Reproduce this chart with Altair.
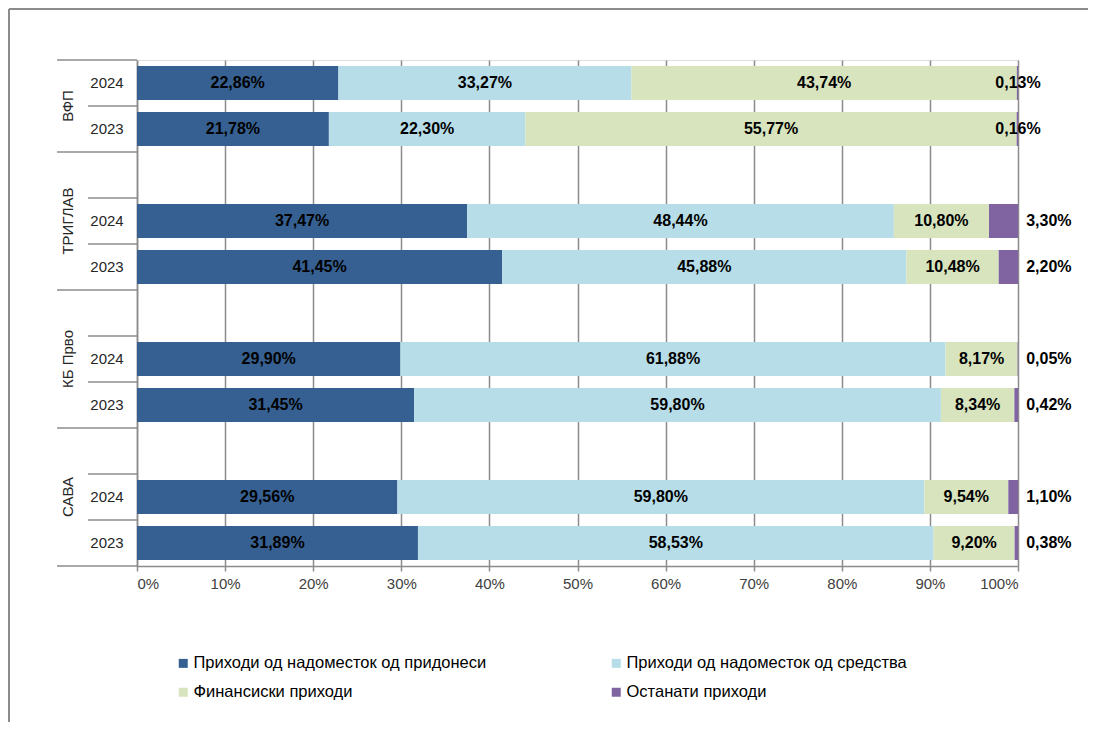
import altair as alt
import pandas as pd

companies = ["ВФП", "ТРИГЛАВ", "КБ Прво", "САВА"]
years = ["2024", "2023"]
series = [
    "Приходи  од надоместок од придонеси",
    "Приходи  од надоместок од средства",
    "Финансиски приходи",
    "Останати приходи",
]
colors = ["#376092", "#B7DEE8", "#D7E4BD", "#8064A2"]

# order of rows: ВФП 2024, ВФП 2023, ТРИГЛАВ 2024, ТРИГЛАВ 2023, КБ Прво 2024, КБ Прво 2023, САВА 2024, САВА 2023
contrib = [22.86, 21.78, 37.47, 41.45, 29.90, 31.45, 29.56, 31.89]
assets = [33.27, 22.30, 48.44, 45.88, 61.88, 59.80, 59.80, 58.53]
financial = [43.74, 55.77, 10.80, 10.48, 8.17, 8.34, 9.54, 9.20]
other = [0.13, 0.16, 3.30, 2.20, 0.05, 0.42, 1.10, 0.38]

FONT = "Liberation Sans"
GRID = "#8c8c8c"

rows, yrows, grows, seps = [], [], [], []
for i, comp in enumerate(companies):
    first = 0 if i == 0 else 3 * i
    lo = -0.5 if i == 0 else 3 * i - 1.5
    hi = first + 1.5
    grows.append(dict(company=comp, center=(lo + hi) / 2))
    seps.append(dict(pos=lo, long=1))
    if i > 0:
        seps.append(dict(pos=lo + 1, long=0))
    seps.append(dict(pos=first + 0.5, long=0))
    for j, yr in enumerate(years):
        k = i * 2 + j
        slot = first + j
        yrows.append(dict(year=yr, slot=slot))
        vals = [contrib[k], assets[k], financial[k], other[k]]
        for s, (name, v) in enumerate(zip(series, vals)):
            rows.append(dict(company=comp, year=yr, slot=slot, series=name, order=s,
                             first_group=int(i == 0),
                             value=v, label=f"{v:.2f}".replace(".", ",") + "%"))
seps.append(dict(pos=10.5, long=1))

df = pd.DataFrame(rows)
ydf = pd.DataFrame(yrows)
gdf = pd.DataFrame(grows)
sdf = pd.DataFrame(seps)

xscale = alt.Scale(domain=[0, 100], nice=False, zero=False)
yscale = alt.Scale(domain=[-0.5, 10.5], reverse=True, nice=False, zero=False)

xaxis = alt.Axis(values=list(range(0, 101, 10)), labelExpr="datum.value + '%'", title=None,
                 grid=True, gridColor=GRID, gridWidth=1.5, domainColor=GRID, domainWidth=1.5,
                 tickColor=GRID, tickWidth=1.5, tickSize=5, labelFontSize=15, labelFont=FONT,
                 labelColor="#404040", labelPadding=5)
yaxis = alt.Axis(labels=False, ticks=False, grid=False, title=None, domainColor=GRID, domainWidth=1.5)

# legend is laid out column by column; list entries so rows read like the reference
legend_order = [series[0], series[2], series[1], series[3]]

base = alt.Chart(df).transform_stack(
    stack="value", groupby=["slot"], as_=["x0", "x1"], sort=[alt.SortField("order")]
).transform_calculate(yt="datum.slot - 0.37", yb="datum.slot + 0.37")

bars = base.mark_rect().encode(
    x=alt.X("x0:Q", scale=xscale, axis=xaxis),
    x2="x1:Q",
    y=alt.Y("yt:Q", scale=yscale, axis=yaxis),
    y2="yb:Q",
    color=alt.Color("series:N", scale=alt.Scale(domain=series, range=colors),
                    legend=alt.Legend(orient="none", legendX=38, legendY=595, columns=2,
                                      values=legend_order,
                                      title=None, symbolType="square", symbolSize=81,
                                      symbolStrokeWidth=0, labelFontSize=16.5, labelFont=FONT,
                                      labelColor="#000000", columnPadding=117, rowPadding=12,
                                      labelOffset=2, padding=0, labelLimit=400)),
)

labels = base.transform_calculate(
    lx="datum.order == 3 ? (datum.first_group == 1 ? 100 : 103.5) : (datum.x0 + datum.x1) / 2"
).mark_text(font=FONT, fontSize=16, fontWeight="bold", color="#000000").encode(
    x=alt.X("lx:Q", scale=xscale),
    y=alt.Y("slot:Q", scale=yscale),
    text="label:N",
)

year_text = alt.Chart(ydf).mark_text(font=FONT, fontSize=15, color="#262626", align="center").encode(
    x=alt.value(-30), y=alt.Y("slot:Q", scale=yscale), text="year:N"
)

group_text = alt.Chart(gdf).mark_text(font=FONT, fontSize=15, color="#262626", angle=270,
                                      align="center", baseline="middle").encode(
    x=alt.value(-69), y=alt.Y("center:Q", scale=yscale), text="company:N"
)

long_sep = alt.Chart(sdf).transform_filter("datum.long == 1").mark_rule(
    color=GRID, strokeWidth=1.5).encode(
    x=alt.value(-80), x2=alt.value(0), y=alt.Y("pos:Q", scale=yscale))
short_sep = alt.Chart(sdf).transform_filter("datum.long == 0").mark_rule(
    color=GRID, strokeWidth=1.5).encode(
    x=alt.value(-49), x2=alt.value(0), y=alt.Y("pos:Q", scale=yscale))

frame_df = pd.DataFrame({"a": [0]})
frame_left = alt.Chart(frame_df).mark_rule(color=GRID, strokeWidth=2).encode(
    x=alt.value(-128), y=alt.value(-51), y2=alt.value(662))
frame_top = alt.Chart(frame_df).mark_rule(color=GRID, strokeWidth=2).encode(
    x=alt.value(-128), x2=alt.value(951), y=alt.value(-51))

chart = alt.layer(
    frame_left, frame_top, bars, labels, year_text, group_text, long_sep, short_sep
).properties(
    width=881, height=506,
    padding={"left": 129, "top": 52, "right": 70, "bottom": 156},
    autosize=alt.AutoSizeParams(type="none"),
).configure_view(stroke=None).configure(background="#ffffff")

chart.save("out.html", embed_options={"renderer": "svg", "actions": False})
